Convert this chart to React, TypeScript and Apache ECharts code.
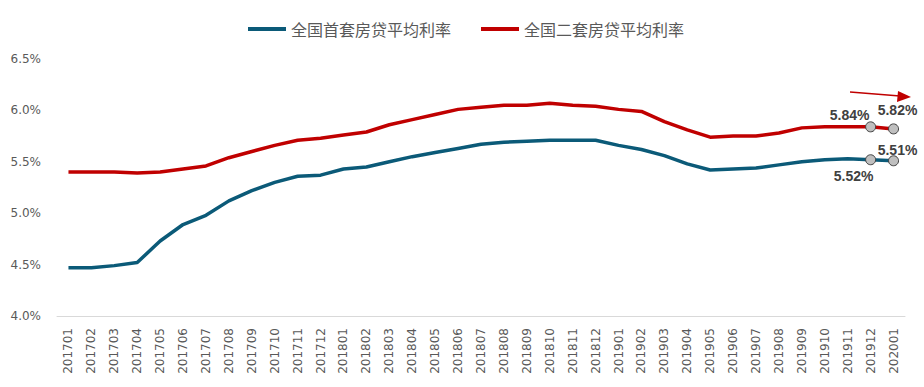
import React, { useEffect, useRef } from "react";
import * as echarts from "echarts";

const categories = [
  "201701","201702","201703","201704","201705","201706","201707","201708","201709","201710","201711","201712",
  "201801","201802","201803","201804","201805","201806","201807","201808","201809","201810","201811","201812",
  "201901","201902","201903","201904","201905","201906","201907","201908","201909","201910","201911","201912",
  "202001",
];

const firstHomeRate = [
  4.47, 4.47, 4.49, 4.52, 4.73, 4.89, 4.98, 5.12, 5.22, 5.30, 5.36, 5.37,
  5.43, 5.45, 5.50, 5.55, 5.59, 5.63, 5.67, 5.69, 5.70, 5.71, 5.71, 5.71,
  5.66, 5.62, 5.56, 5.48, 5.42, 5.43, 5.44, 5.47, 5.50, 5.52, 5.53, 5.52,
  5.51,
];

const secondHomeRate = [
  5.40, 5.40, 5.40, 5.39, 5.40, 5.43, 5.46, 5.54, 5.60, 5.66, 5.71, 5.73,
  5.76, 5.79, 5.86, 5.91, 5.96, 6.01, 6.03, 6.05, 6.05, 6.07, 6.05, 6.04,
  6.01, 5.99, 5.89, 5.81, 5.74, 5.75, 5.75, 5.78, 5.83, 5.84, 5.84, 5.84,
  5.82,
];

const seriesNames = ["全国首套房贷平均利率", "全国二套房贷平均利率"];
const yTicks = [4.0, 4.5, 5.0, 5.5, 6.0, 6.5];

const BLUE = "#0b5a78";
const RED = "#c00000";

function buildData(values: number[], labelOffsets: Record<number, number[]>) {
  return values.map((v, i) => {
    const off = labelOffsets[i];
    if (!off) return v;
    return {
      value: v,
      symbol: "circle",
      symbolSize: 10,
      itemStyle: { color: "#bfbfbf", borderColor: "#404040", borderWidth: 1 },
      label: {
        show: true,
        position: "inside",
        offset: off,
        formatter: (p: any) => p.value.toFixed(2) + "%",
        fontFamily: "Liberation Sans",
        fontWeight: "bold",
        fontSize: 14,
        color: "#404040",
      },
    };
  });
}

export default function App() {
  const ref = useRef<HTMLDivElement>(null);
  useEffect(() => {
    if (!ref.current) return;
    const chart = echarts.init(ref.current, undefined, { renderer: "svg" });
    const n = categories.length;
    const blueData = buildData(firstHomeRate, {
      [n - 2]: [-17, 16],
      [n - 1]: [4, -11],
    });
    const redData = buildData(secondHomeRate, {
      [n - 2]: [-21, -12],
      [n - 1]: [4, -19],
    });
    chart.setOption({
      animation: false,
      backgroundColor: "#ffffff",
      legend: {
        left: 243,
        top: 16,
        icon: "rect",
        itemWidth: 38,
        itemHeight: 4,
        itemGap: 30,
        textStyle: {
          fontFamily: "Noto Sans CJK SC",
          fontSize: 16,
          color: "#595959",
        },
        data: seriesNames,
      },
      grid: { left: 57, right: 19, top: 59, bottom: 71, containLabel: false },
      xAxis: {
        type: "category",
        data: categories,
        boundaryGap: true,
        axisLine: { lineStyle: { color: "#d9d9d9", width: 1 } },
        axisTick: { show: false },
        axisLabel: {
          rotate: 90,
          interval: 0,
          fontFamily: "DejaVu Sans",
          fontSize: 12,
          color: "#595959",
          margin: 12,
        },
      },
      yAxis: {
        type: "value",
        min: yTicks[0],
        max: yTicks[yTicks.length - 1],
        interval: 0.5,
        splitLine: { show: false },
        axisLine: { show: false },
        axisTick: { show: false },
        axisLabel: {
          formatter: (v: number) => v.toFixed(1) + "%",
          fontFamily: "DejaVu Sans",
          fontSize: 12,
          color: "#595959",
          margin: 16,
        },
      },
      graphic: [
        {
          type: "line",
          shape: { x1: 850, y1: 92, x2: 900, y2: 96 },
          style: { stroke: RED, lineWidth: 1.5 },
        },
        {
          type: "polygon",
          shape: { points: [[911, 97], [898, 91], [897, 102]] },
          style: { fill: RED },
        },
      ],
      series: [
        {
          name: seriesNames[0],
          type: "line",
          data: blueData,
          showSymbol: true,
          symbol: "none",
          lineStyle: { color: BLUE, width: 3.5 },
          itemStyle: { color: BLUE },
          z: 3,
        },
        {
          name: seriesNames[1],
          type: "line",
          data: redData,
          showSymbol: true,
          symbol: "none",
          lineStyle: { color: RED, width: 3.5 },
          itemStyle: { color: RED },
          z: 3,
        },
      ],
    });
    return () => chart.dispose();
  }, []);
  return (
    <div
      ref={ref}
      style={{ position: "fixed", left: 0, top: 0, width: 924, height: 387, background: "#fff" }}
    />
  );
}
